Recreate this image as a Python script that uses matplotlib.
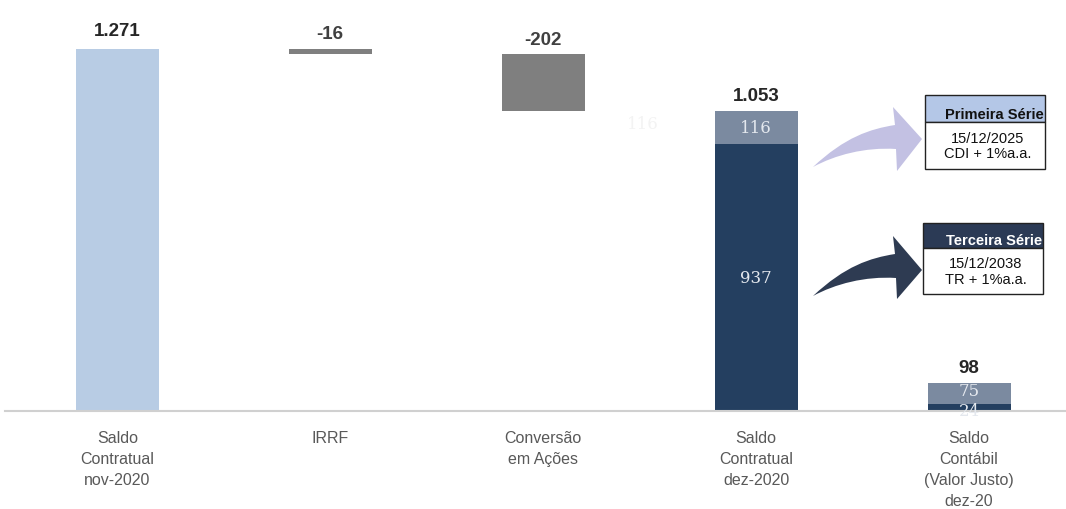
import matplotlib
matplotlib.use("Agg")
from matplotlib import pyplot as plt
from matplotlib.patches import Rectangle, PathPatch
from matplotlib.path import Path
import numpy as np

# dados (R$ milhões)
categorias = ["Saldo\nContratual\nnov-2020", "IRRF", "Conversão\nem Ações",
              "Saldo\nContratual\ndez-2020", "Saldo\nContábil\n(Valor Justo)\ndez-20"]
saldo_inicial = 1271
irrf = -16
conversao = -202
dez2020_terceira = 937
dez2020_primeira = 116
justo_terceira = 24
justo_primeira = 75
justo_total = 98

def fmt(v):
    return f"{v:,}".replace(",", ".")

W, H = 1066, 510
fig = plt.figure(figsize=(W / 100, H / 100), dpi=100)
ax = fig.add_axes([0.005, (H - 412) / H, 0.995, 412 / H])

c_claro = "#b8cce4"
c_cinza = "#7f7f7f"
c_escuro = "#243f60"
c_medio = "#7b8aa0"
larg = 0.39
x = np.arange(len(categorias))

# barras do waterfall
ax.bar(x[0], saldo_inicial, larg, color=c_claro)
apos_irrf = saldo_inicial + irrf
ax.bar(x[1], -irrf, larg, bottom=apos_irrf, color=c_cinza)
apos_conv = apos_irrf + conversao
ax.bar(x[2], -conversao, larg, bottom=apos_conv, color=c_cinza)
ax.bar(x[3], dez2020_terceira, larg, color=c_escuro)
ax.bar(x[3], dez2020_primeira, larg, bottom=dez2020_terceira, color=c_medio)
ax.bar(x[4], justo_terceira, larg, color=c_escuro)
ax.bar(x[4], justo_primeira, larg, bottom=justo_terceira, color=c_medio)

# rótulos de total
tot = dict(ha="center", va="bottom", fontsize=13.5, fontweight="bold", family="Liberation Sans")
ax.text(x[0], saldo_inicial + 35, fmt(saldo_inicial), color="#262626", **tot)
ax.text(x[1], saldo_inicial + 25, fmt(irrf), color="#404040", **tot)
ax.text(x[2], apos_irrf + 20, fmt(conversao), color="#404040", **tot)
ax.text(x[3], dez2020_terceira + dez2020_primeira + 25, fmt(dez2020_terceira + dez2020_primeira),
        color="#262626", **tot)
ax.text(x[4], justo_terceira + justo_primeira + 25, fmt(justo_total), color="#262626", **tot)

# rótulos internos
inn = dict(ha="center", va="center", fontsize=12, color="#e4e8ee", family="DejaVu Serif")
ax.text(x[3], dez2020_terceira + dez2020_primeira / 2, str(dez2020_primeira), **inn)
ax.text(x[3], dez2020_terceira / 2, str(dez2020_terceira), **inn)
ax.text(x[4], justo_terceira + justo_primeira / 2 + 10, str(justo_primeira), **inn)
ax.text(x[4], justo_terceira / 2 - 10, str(justo_terceira), **inn)
ax.text(x[2] + 0.47, apos_conv - 45, str(dez2020_primeira), ha="center", va="center",
        fontsize=12, color="#f3f3f3", family="DejaVu Serif")

ax.set_xlim(-112 / 213, (W - 117) / 213)
ax.set_ylim(0, saldo_inicial * 412 / 362)
for s in ["top", "right", "left"]:
    ax.spines[s].set_visible(False)
ax.spines["bottom"].set_color("#d0d0d0")
ax.spines["bottom"].set_linewidth(1.5)
ax.set_yticks([])
ax.set_xticks(x)
ax.set_xticklabels(categorias, fontsize=11.5, color="#595959",
                   family="Liberation Sans", linespacing=1.5)
ax.tick_params(axis="x", length=0, pad=14)

# coordenadas em pixels (origem no topo)
def P(px, py):
    return (px / W, 1 - py / H)

def caixa(x0, y0, w, hh, hb, cor_head, cor_txt, titulo, linhas):
    fig.add_artist(Rectangle(P(x0, y0 + hh), w / W, hh / H, transform=fig.transFigure,
                             facecolor=cor_head, edgecolor="#222222", lw=1))
    fig.add_artist(Rectangle(P(x0, y0 + hh + hb), w / W, hb / H, transform=fig.transFigure,
                             facecolor="white", edgecolor="#222222", lw=1))
    fig.text(*P(x0 + w - 1, y0 + hh - 1), titulo, ha="right", va="bottom", fontsize=10.5,
             fontweight="bold", color=cor_txt, family="Liberation Sans")
    fig.text(*P(x0 + w / 2 + 3, y0 + hh + hb / 2), "\n".join(linhas), ha="center", va="center",
             fontsize=10.5, color="#111111", family="Liberation Sans", linespacing=1.1)

caixa(925, 96, 120, 27, 47, "#b4c7e7", "#111111", "Primeira Série", ["15/12/2025", "CDI + 1%a.a."])
caixa(923, 224, 120, 25, 46, "#2b3a55", "white", "Terceira Série", ["15/12/2038", "TR + 1%a.a."])

def seta(y_tail, y_head_top, y_tip, y_head_bot, cor):
    verts = [P(813, y_tail),
             P(845, y_tail - 30), P(870, y_head_top + 22), P(895, y_head_top + 18),
             P(893, y_head_top),
             P(922, y_tip),
             P(897, y_head_bot),
             P(896, y_head_top + 42),
             P(865, y_head_top + 40), P(835, y_tail - 12), P(813, y_tail),
             P(813, y_tail)]
    codes = [Path.MOVETO, Path.CURVE4, Path.CURVE4, Path.CURVE4, Path.LINETO, Path.LINETO,
             Path.LINETO, Path.LINETO, Path.CURVE4, Path.CURVE4, Path.CURVE4, Path.CLOSEPOLY]
    fig.add_artist(PathPatch(Path(verts, codes), transform=fig.transFigure,
                             facecolor=cor, edgecolor="none"))

seta(168, 108, 140, 172, "#c3c1e3")
seta(297, 237, 271, 300, "#2e3b52")

plt.savefig("out.png", dpi=100)
